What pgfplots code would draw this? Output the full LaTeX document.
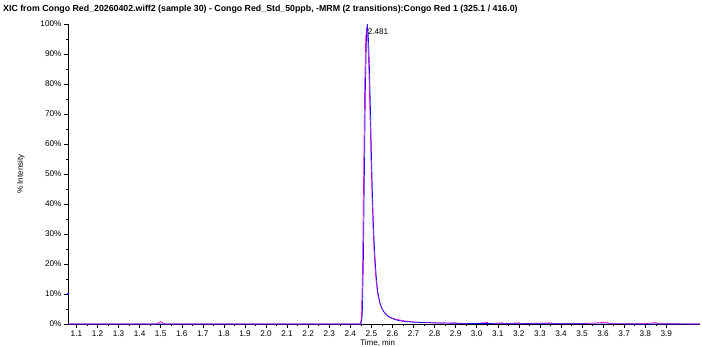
\documentclass[border=0pt]{standalone}
\usepackage{pgfplots}
\pgfplotsset{compat=1.18}
\usepackage{fontspec}
\setmainfont{Liberation Sans}
\definecolor{tblue}{RGB}{20,20,240}
\definecolor{tmag}{RGB}{255,0,220}
\begin{document}
\begin{tikzpicture}
\path[use as bounding box] (0pt,0pt) rectangle (702pt,347pt);
\node[anchor=west,font=\fontsize{8.8}{10}\selectfont\bfseries,inner sep=0pt] at (3pt,338pt) {XIC from Congo Red\_20260402.wiff2 (sample 30) - Congo Red\_Std\_50ppb, -MRM (2 transitions):Congo Red 1 (325.1 / 416.0)};
\begin{axis}[
  at={(68pt,23pt)}, anchor=south west,
  scale only axis, width=632pt, height=300pt,
  xmin=1.06, xmax=4.06, ymin=0, ymax=100,
  axis x line=bottom, axis y line=left,
  axis line style={-, black, line width=0.8pt},
  xtick={1.1,1.2,1.3,1.4,1.5,1.6,1.7,1.8,1.9,2.0,2.1,2.2,2.3,2.4,2.5,2.6,2.7,2.8,2.9,3.0,3.1,3.2,3.3,3.4,3.5,3.6,3.7,3.8,3.9},
  minor x tick num=1,
  ytick={0,10,...,100},
  minor y tick num=1,
  yticklabels={0\%,10\%,20\%,30\%,40\%,50\%,60\%,70\%,80\%,90\%,100\%\hspace{11pt}},
  xticklabel style={/pgf/number format/.cd, fixed, fixed zerofill, precision=1},
  /pgf/number format/assume math mode=true,
  tick label style={font=\fontsize{8.2}{9}\selectfont},
  tick align=outside,
  major tick length=4pt, minor tick length=2pt,
  tick style={black, line width=0.5pt},
  xticklabel shift=-1pt,
  yticklabel shift=-1pt,
  xlabel={Time, min}, ylabel={\% Intensity},
  label style={font=\fontsize{8}{9}\selectfont},
  xlabel style={at={(axis description cs:0.49,0)}, anchor=north, yshift=-12pt},
  ylabel style={at={(axis description cs:0,0.5)}, anchor=south, yshift=40pt},
  clip=false,
]
\addplot[tmag, line width=0.7pt] coordinates {
(1.06,0) (1.48,0) (1.49,0.4) (1.5,0.8) (1.51,0.4) (1.52,0) (2.44,0)
(2.447,0) (2.453,2) (2.458,18) (2.463,48) (2.468,78) (2.473,95) (2.478,99)
(2.483,95) (2.488,85) (2.493,71) (2.498,56) (2.503,43) (2.508,32) (2.513,24)
(2.518,18) (2.523,14) (2.53,10) (2.54,7) (2.55,5.2) (2.56,4) (2.58,2.6)
(2.6,1.9) (2.63,1.4) (2.66,1) (2.7,0.7) (2.75,0.5) (2.8,0.4) (2.85,0.3)
(2.9,0.4) (2.91,0.1) (2.95,0.2) (3.0,0.2) (3.05,0.5) (3.06,0.1) (3.12,0.4) (3.13,0.1)
(3.2,0.4) (3.21,0.1) (3.35,0.4) (3.36,0.1) (3.5,0.1) (3.62,0.6) (3.63,0.1)
(3.8,0.1) (3.85,0.5) (3.86,0.1) (4.06,0)
};
\addplot[tblue, line width=0.7pt] coordinates {
(1.06,0) (2.44,0) (2.451,0) (2.457,3) (2.462,20) (2.467,50) (2.472,80)
(2.477,96) (2.481,100) (2.485,97) (2.49,88) (2.495,74) (2.50,58) (2.505,44)
(2.51,33) (2.515,25) (2.52,19) (2.525,14.5) (2.53,11) (2.54,7.2) (2.55,5.2)
(2.56,4) (2.57,3.1) (2.58,2.5) (2.6,1.8) (2.62,1.3) (2.65,0.9) (2.7,0.6)
(2.75,0.45) (2.8,0.35) (2.9,0.25) (3.0,0.15) (3.2,0.1) (3.5,0.05) (4.06,0)
};
\addplot[tblue, only marks, mark=*, mark size=1pt] coordinates {(1.06,10)};
\node[anchor=north west, inner sep=0pt, font=\fontsize{8.2}{9}\selectfont] at (axis cs:2.482,98.5) {2.481};
\end{axis}
\end{tikzpicture}
\end{document}
